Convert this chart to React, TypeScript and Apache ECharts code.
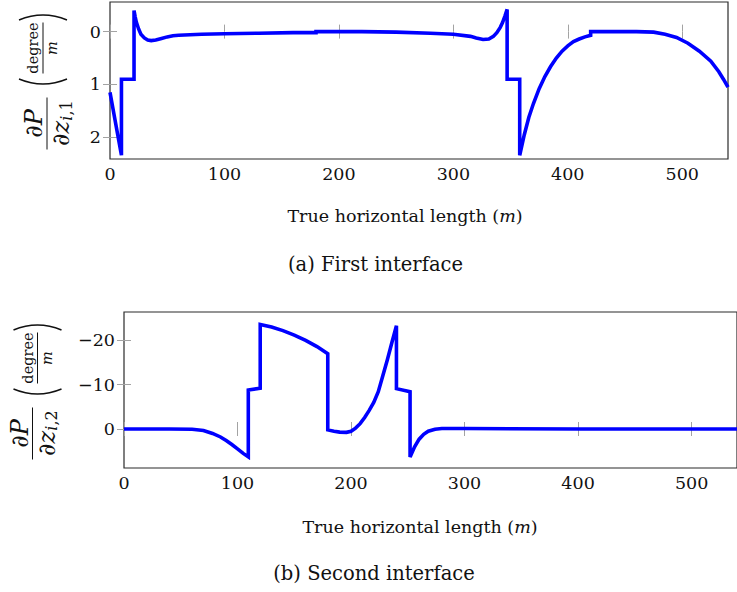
import React, { useEffect, useRef } from 'react';
import * as echarts from 'echarts';

// First interface: sensitivity along the true horizontal length (m)
const TOP_X = [
  0, 10, 10, 21, 21, 22, 23, 25, 27, 30, 33, 36, 40, 45, 50, 55, 60, 80, 100, 130, 160, 180,
  180, 220, 250, 280, 300, 315, 320, 326, 331, 335, 338, 341, 343, 345, 347,
  347, 358, 358, 362, 366, 370, 375, 380, 385, 390, 395, 400, 405, 410, 415, 420,
  420, 440, 460, 475, 485, 495, 505, 515, 525, 532, 536, 540,
];
const TOP_Y = [
  1.15, 2.34, 0.9, 0.9, -0.4, -0.28, -0.18, -0.05, 0.05, 0.12, 0.16, 0.17, 0.16, 0.13, 0.1, 0.08, 0.07, 0.05, 0.04, 0.03, 0.02, 0.02,
  0.0, 0.0, 0.01, 0.03, 0.05, 0.09, 0.12, 0.15, 0.14, 0.09, 0.02, -0.08, -0.17, -0.29, -0.42,
  0.9, 0.9, 2.34, 1.95, 1.62, 1.36, 1.08, 0.85, 0.66, 0.5, 0.37, 0.27, 0.19, 0.14, 0.1, 0.07,
  0.0, 0.0, 0.0, 0.01, 0.05, 0.11, 0.22, 0.37, 0.56, 0.76, 0.9, 1.05,
];

// Second interface
const BOTTOM_X = [
  0, 40, 60, 70, 78, 85, 90, 95, 100, 105, 109.5,
  109.5, 120, 120, 130, 140, 150, 160, 170, 179.5,
  179.5, 185, 190, 196, 200, 204, 208, 212, 216, 220, 224, 228, 232, 236, 240,
  240, 252, 252, 256, 260, 264, 268, 274, 280, 300, 400, 540,
];
const BOTTOM_Y = [
  0, 0, 0.05, 0.35, 1.0, 1.8, 2.6, 3.5, 4.5, 5.5, 6.3,
  -8.8, -9.2, -23.6, -23.0, -22.2, -21.2, -20.0, -18.6, -17.0,
  0.2, 0.5, 0.7, 0.75, 0.5, -0.2, -1.2, -2.6, -4.2, -6.0, -8.4, -12.0, -15.6, -19.5, -23.3,
  -9.1, -8.4, 6.3, 4.0, 2.3, 1.2, 0.5, 0.05, -0.1, -0.1, 0, 0,
];

const X_TICKS = [0, 100, 200, 300, 400, 500];
const TOP_Y_TICKS = [0, 1, 2];
const BOTTOM_Y_TICKS = [-20, -10, 0];

const X_TITLE = 'True horizontal length (';
const CAPTION_A = '(a) First interface';
const CAPTION_B = '(b) Second interface';

const FONT = 'DejaVu Serif';
const INK = '#111111';
const FRAME = '#2b2b2b';
const TICK = '#a3a3a3';
const BLUE = '#0000ff';

const fmtTick = (v: number) => (v < 0 ? '\u2212' + Math.abs(v) : String(v));

function xAxis(gridIndex: number, position: 'bottom' | 'top', labels: boolean) {
  return {
    type: 'value',
    gridIndex,
    position,
    min: 0,
    max: 540,
    axisLine: { show: false },
    splitLine: { show: false },
    axisTick: {
      show: true,
      inside: true,
      length: 7,
      customValues: X_TICKS,
      lineStyle: { color: TICK, width: 1 },
    },
    axisLabel: {
      show: labels,
      customValues: X_TICKS,
      margin: 6,
      color: INK,
      fontSize: 17.5,
      fontFamily: FONT,
      formatter: fmtTick,
    },
  };
}

function yAxis(gridIndex: number, position: 'left' | 'right', labels: boolean, min: number, max: number, ticks: number[]) {
  return {
    type: 'value',
    gridIndex,
    position,
    min,
    max,
    inverse: true,
    axisLine: { show: false },
    splitLine: { show: false },
    axisTick: {
      show: true,
      inside: true,
      length: 7,
      customValues: ticks,
      lineStyle: { color: TICK, width: 1 },
    },
    axisLabel: {
      show: labels,
      customValues: ticks,
      margin: 9,
      color: INK,
      fontSize: 17.5,
      fontFamily: FONT,
      formatter: fmtTick,
    },
  };
}

// Rotated y-axis label: dP/dz_{i,k} (degree / m), stacked fractions drawn piece by piece.
function yLabel(ox: number, oy: number, sub: string, degV: number) {
  const rot = Math.PI / 2;
  // u runs along the reading direction (screen up), v across it (screen right)
  const at = (u: number, v: number) => [ox + v, oy - u];
  const txt = (u: number, v: number, text: string, size: number, italic = false) => {
    const [x, y] = at(u, v);
    return {
      type: 'text',
      x,
      y,
      rotation: rot,
      silent: true,
      style: {
        text,
        fill: INK,
        fontSize: size,
        fontFamily: FONT,
        fontStyle: italic ? 'italic' : 'normal',
        align: 'center',
        verticalAlign: 'middle',
        textAlign: 'center',
        textVerticalAlign: 'middle',
        rich: {
          r: { fontSize: size, fontFamily: FONT, fill: INK },
          i: { fontSize: size, fontFamily: FONT, fill: INK, fontStyle: 'italic' },
        },
      },
    };
  };
  const seg = (u1: number, u2: number, v: number) => {
    const [x1, y1] = at(u1, v);
    const [x2, y2] = at(u2, v);
    return { type: 'line', silent: true, shape: { x1, y1, x2, y2 }, style: { stroke: INK, lineWidth: 1 } };
  };
  const paren = (u: number, v: number, dir: number) => {
    const [x1, y1] = at(u - dir * 3.5, v - 24);
    const [x2, y2] = at(u - dir * 3.5, v + 24);
    const [cx, cy] = at(u + dir * 6.5, v);
    return {
      type: 'bezierCurve',
      silent: true,
      shape: { x1, y1, x2, y2, cpx1: cx, cpy1: cy },
      style: { stroke: INK, lineWidth: 1.4, fill: null },
    };
  };
  return [
    txt(0, -13, '{r|\u2202}{i|P}', 24),
    seg(-26, 26, 0),
    txt(-10, 14, '{r|\u2202}{i|z}', 24),
    txt(13, 19, '{i|i}{r|,' + sub + '}', 16),
    paren(41, degV, -1),
    seg(50, 101, degV),
    txt(75.5, degV - 10, 'degree', 14.5),
    txt(75.5, degV + 9, 'm', 14.5, true),
    paren(107, degV, 1),
  ];
}

function centered(x: number, y: number, text: string, size: number, rich?: any) {
  return {
    type: 'text',
    x,
    y,
    silent: true,
    style: {
      text,
      fill: INK,
      fontSize: size,
      fontFamily: FONT,
      align: 'center',
      verticalAlign: 'middle',
      textAlign: 'center',
      textVerticalAlign: 'middle',
      rich,
    },
  };
}

const titleRich = (size: number) => ({
  r: { fontSize: size, fontFamily: FONT, fill: INK },
  i: { fontSize: size, fontFamily: FONT, fill: INK, fontStyle: 'italic' },
});

export default function App() {
  const ref = useRef<HTMLDivElement>(null);

  useEffect(() => {
    if (!ref.current) return;
    const chart = echarts.init(ref.current, undefined, { renderer: 'svg' });

    const lineSeries = (xs: number[], ys: number[], idx: number) => ({
      type: 'line',
      xAxisIndex: idx,
      yAxisIndex: idx,
      data: xs.map((x, i) => [x, ys[i]]),
      symbol: 'none',
      showSymbol: false,
      clip: true,
      lineStyle: { color: BLUE, width: 3.6, join: 'miter', miterLimit: 10 },
      silent: true,
    });

    const titleText = '{r|' + X_TITLE + '}{i|m}{r|)}';

    chart.setOption({
      animation: false,
      backgroundColor: '#ffffff',
      textStyle: { fontFamily: FONT },
      grid: [
        { left: 110, top: 2, width: 618, height: 157, show: true, borderColor: FRAME, borderWidth: 1.2 },
        { left: 124, top: 312, width: 619, height: 156, show: true, borderColor: FRAME, borderWidth: 1.2 },
      ],
      xAxis: [xAxis(0, 'bottom', true), xAxis(1, 'bottom', true), xAxis(0, 'top', false), xAxis(1, 'top', false)],
      yAxis: [
        yAxis(0, 'left', true, -0.56, 2.41, TOP_Y_TICKS),
        yAxis(1, 'left', true, -26.4, 8.8, BOTTOM_Y_TICKS),
        yAxis(0, 'right', false, -0.56, 2.41, TOP_Y_TICKS),
        yAxis(1, 'right', false, -26.4, 8.8, BOTTOM_Y_TICKS),
      ],
      series: [lineSeries(TOP_X, TOP_Y, 0), lineSeries(BOTTOM_X, BOTTOM_Y, 1)],
      graphic: [
        ...yLabel(47, 123.5, '1', -4),
        ...yLabel(32.5, 433.5, '2', 5),
        centered(405, 216, titleText, 17.5, titleRich(17.5)),
        centered(375.5, 264, CAPTION_A, 19.5),
        centered(420, 527, titleText, 17.5, titleRich(17.5)),
        centered(374, 573, CAPTION_B, 19.5),
      ],
    });

    return () => chart.dispose();
  }, []);

  return (
    <div style={{ position: 'absolute', left: 0, top: 0, width: 737, height: 592, overflow: 'hidden', background: '#fff' }}>
      <div ref={ref} style={{ width: 737, height: 592 }} />
    </div>
  );
}
